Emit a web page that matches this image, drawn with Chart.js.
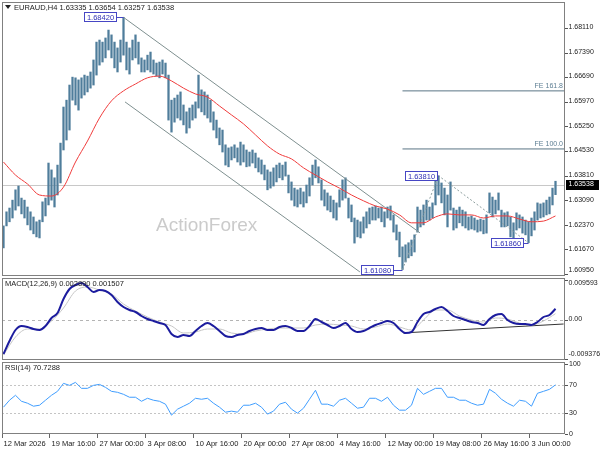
<!DOCTYPE html>
<html>
<head>
<meta charset="utf-8">
<title>EURAUD H4</title>
<script src="https://cdn.jsdelivr.net/npm/chart.js@4.4.1/dist/chart.umd.min.js"></script>
<style>
  html, body { margin: 0; padding: 0; background: #fff; }
  #wrap { position: relative; width: 600px; height: 450px; overflow: hidden; background: #fff; }
  #wrap canvas { position: absolute; left: 0; }
  #priceChart { z-index: 1; }
  #macdChart { z-index: 2; }
  #rsiChart { z-index: 3; }
</style>
</head>
<body>
<div id="wrap">
  <canvas id="priceChart" width="600" height="280" style="top:0"></canvas>
  <canvas id="macdChart" width="600" height="84" style="top:276px"></canvas>
  <canvas id="rsiChart" width="600" height="90" style="top:360px"></canvas>
</div>
<script>
// EURAUD H4 : price bars + MA, MACD, RSI

const symbolTitle = 'EURAUD,H4';
const lastOhlc = [1.63335, 1.63654, 1.63257, 1.63538];

// bar highs / lows (one per bar)
const barHigh = [
  1.6235, 1.6276, 1.6287, 1.6310, 1.6340, 1.6351, 1.6316, 1.6310, 1.6290, 1.6276,
  1.6261, 1.6247, 1.6252, 1.6305, 1.6316, 1.6418, 1.6398, 1.6375, 1.6412, 1.6476,
  1.6581, 1.6601, 1.6645, 1.6668, 1.6666, 1.6660, 1.6666, 1.6674, 1.6671, 1.6683,
  1.6718, 1.6770, 1.6776, 1.6770, 1.6782, 1.6805, 1.6791, 1.6770, 1.6753, 1.6776,
  1.6842, 1.6770, 1.6753, 1.6776, 1.6791, 1.6770, 1.6724, 1.6718, 1.6732, 1.6741,
  1.6718, 1.6709, 1.6712, 1.6718, 1.6709, 1.6674, 1.6601, 1.6607, 1.6616, 1.6625,
  1.6587, 1.6567, 1.6578, 1.6587, 1.6596, 1.6674, 1.6631, 1.6625, 1.6616, 1.6601,
  1.6567, 1.6543, 1.6520, 1.6514, 1.6471, 1.6462, 1.6465, 1.6471, 1.6462, 1.6479,
  1.6471, 1.6456, 1.6450, 1.6456, 1.6447, 1.6433, 1.6427, 1.6412, 1.6398, 1.6392,
  1.6404, 1.6412, 1.6418, 1.6412, 1.6421, 1.6383, 1.6363, 1.6345, 1.6340, 1.6345,
  1.6334, 1.6354, 1.6375, 1.6412, 1.6427, 1.6407, 1.6369, 1.6340, 1.6331, 1.6322,
  1.6310, 1.6302, 1.6340, 1.6369, 1.6375, 1.6316, 1.6296, 1.6258, 1.6252, 1.6247,
  1.6261, 1.6276, 1.6287, 1.6290, 1.6293, 1.6287, 1.6290, 1.6276, 1.6290, 1.6293,
  1.6267, 1.6238, 1.6217, 1.6174, 1.6180, 1.6186, 1.6194, 1.6209, 1.6290, 1.6281,
  1.6296, 1.6310, 1.6290, 1.6302, 1.6369, 1.6381, 1.6360, 1.6345, 1.6325, 1.6363,
  1.6287, 1.6281, 1.6290, 1.6281, 1.6276, 1.6261, 1.6264, 1.6258, 1.6252, 1.6255,
  1.6252, 1.6267, 1.6331, 1.6319, 1.6310, 1.6331, 1.6281, 1.6273, 1.6276, 1.6261,
  1.6244, 1.6273, 1.6267, 1.6261, 1.6252, 1.6247, 1.6258, 1.6276, 1.6302, 1.6299,
  1.6302, 1.6310, 1.6319, 1.6345, 1.6365
];
const barLow = [
  1.6171, 1.6235, 1.6247, 1.6258, 1.6281, 1.6293, 1.6270, 1.6258, 1.6238, 1.6223,
  1.6212, 1.6203, 1.6200, 1.6247, 1.6264, 1.6296, 1.6310, 1.6290, 1.6325, 1.6360,
  1.6456, 1.6485, 1.6514, 1.6601, 1.6587, 1.6572, 1.6607, 1.6616, 1.6625, 1.6636,
  1.6645, 1.6674, 1.6703, 1.6712, 1.6724, 1.6747, 1.6724, 1.6695, 1.6683, 1.6712,
  1.6732, 1.6689, 1.6677, 1.6718, 1.6724, 1.6706, 1.6683, 1.6683, 1.6689, 1.6683,
  1.6677, 1.6671, 1.6666, 1.6677, 1.6666, 1.6543, 1.6508, 1.6537, 1.6549, 1.6543,
  1.6529, 1.6505, 1.6520, 1.6543, 1.6549, 1.6578, 1.6567, 1.6558, 1.6549, 1.6537,
  1.6514, 1.6491, 1.6471, 1.6450, 1.6412, 1.6407, 1.6427, 1.6433, 1.6421, 1.6412,
  1.6421, 1.6407, 1.6409, 1.6418, 1.6404, 1.6392, 1.6386, 1.6369, 1.6340, 1.6345,
  1.6351, 1.6363, 1.6375, 1.6369, 1.6380, 1.6331, 1.6310, 1.6293, 1.6290, 1.6299,
  1.6290, 1.6302, 1.6322, 1.6354, 1.6375, 1.6360, 1.6310, 1.6293, 1.6281, 1.6276,
  1.6258, 1.6252, 1.6290, 1.6310, 1.6316, 1.6258, 1.6247, 1.6185, 1.6203, 1.6200,
  1.6214, 1.6229, 1.6241, 1.6252, 1.6252, 1.6258, 1.6247, 1.6232, 1.6258, 1.6252,
  1.6217, 1.6194, 1.6145, 1.6108, 1.6130, 1.6142, 1.6148, 1.6159, 1.6217, 1.6232,
  1.6238, 1.6252, 1.6252, 1.6258, 1.6296, 1.6325, 1.6302, 1.6267, 1.6232, 1.6281,
  1.6223, 1.6229, 1.6244, 1.6235, 1.6229, 1.6223, 1.6226, 1.6223, 1.6217, 1.6220,
  1.6212, 1.6214, 1.6273, 1.6261, 1.6270, 1.6281, 1.6232, 1.6232, 1.6235, 1.6203,
  1.6200, 1.6223, 1.6229, 1.6214, 1.6209, 1.6186, 1.6206, 1.6223, 1.6252, 1.6258,
  1.6261, 1.6267, 1.6270, 1.6296, 1.6326
];

// moving average, read every 4th bar
const maEvery4 = [
  1.6421, 1.6383, 1.6357, 1.6325, 1.6322, 1.6348, 1.6421, 1.6482, 1.6549, 1.6599,
  1.6628, 1.6648, 1.6666, 1.6671, 1.6657, 1.6636, 1.6619, 1.6610, 1.6584, 1.6558,
  1.6532, 1.6500, 1.6468, 1.6444, 1.6430, 1.6404, 1.6383, 1.6363, 1.6345, 1.6325,
  1.6308, 1.6293, 1.6284, 1.6267, 1.6244, 1.6244, 1.6261, 1.6270, 1.6267, 1.6267,
  1.6258, 1.6264, 1.6264, 1.6255, 1.6247, 1.6249, 1.6264
];

// MACD main (every 2nd bar) and signal (every 4th bar)
const macdEvery2 = [
  -0.00816, -0.00504, -0.0024, -0.00144, -0.00168, -0.00216, -0.0024, -0.00144, 0.00048, 0.00168,
  0.00504, 0.00744, 0.0084, 0.00888, 0.00792, 0.00672, 0.0072, 0.00696, 0.006, 0.00432,
  0.00312, 0.0024, 0.00192, 0.00096, 0.00024, -0.00024, -0.00072, -0.0012, -0.00336, -0.00408,
  -0.0036, -0.00384, -0.00264, -0.00144, -0.00072, -0.00144, -0.00264, -0.00384, -0.00408, -0.0036,
  -0.00336, -0.00264, -0.00216, -0.00192, -0.0024, -0.0024, -0.00168, -0.00144, -0.00192, -0.00264,
  -0.00264, -0.00144, 0.00024, -0.00048, -0.0012, -0.00192, -0.00144, -0.00072, -0.00216, -0.00288,
  -0.00264, -0.00192, -0.0012, -0.00072, -0.00024, -0.00072, -0.00216, -0.00312, -0.00288, -0.00048,
  0.00144, 0.00192, 0.00264, 0.00312, 0.00216, 0.00096, 0.00048, 0, -0.00048, -0.00072,
  -0.0012, 0.00024, 0.0012, 0.00144, 0, -0.00072, -0.00096, -0.00096, -0.0012, -0.00048,
  0.00072, 0.0012, 0.0027
];
const signalEvery4 = [
  -0.0084, -0.00408, -0.00216, -0.00216, -0.00024, 0.00288, 0.00696, 0.00792, 0.0072, 0.00624,
  0.00384, 0.00216, 0.00072, -0.00048, -0.00144, -0.00312, -0.00288, -0.00216, -0.00216, -0.00312,
  -0.00336, -0.00264, -0.00216, -0.00192, -0.00192, -0.00192, -0.0012, -0.00096, -0.0012, -0.00144,
  -0.00216, -0.00168, -0.00096, -0.00168, -0.0024, 0, 0.0024, 0.0024, 0.00096, 0,
  -0.00048, 0.00048, 0.00024, -0.00072, -0.0012, -0.00024, 0.00151
];

// RSI(14), every 2nd bar
const rsiEvery2 = [
  38.6, 48.6, 55.7, 47.1, 44.3, 40.0, 41.4, 48.6, 55.7, 61.4,
  72.9, 70.0, 74.3, 65.7, 65.7, 70.0, 71.4, 67.1, 61.4, 60.0,
  57.1, 52.9, 52.9, 47.1, 51.4, 48.6, 47.1, 42.9, 27.1, 35.7,
  40.0, 44.3, 51.4, 50.0, 51.4, 44.3, 38.6, 31.4, 32.9, 31.4,
  41.4, 41.4, 44.3, 38.6, 28.6, 32.9, 42.9, 45.7, 35.7, 30.0,
  37.1, 50.0, 62.9, 42.9, 42.9, 40.0, 48.6, 51.4, 44.3, 37.1,
  38.6, 51.4, 51.4, 47.1, 52.9, 41.4, 34.3, 34.3, 41.4, 65.7,
  57.1, 61.4, 65.7, 65.7, 52.9, 52.9, 48.6, 48.6, 44.3, 41.4,
  42.9, 64.3, 58.6, 50.0, 44.3, 40.0, 48.6, 47.1, 40.0, 58.6,
  61.4, 64.3, 70.7
];

// axes
const priceTicks = [1.60950, 1.61670, 1.62370, 1.63090, 1.63810, 1.64530, 1.65250, 1.65970, 1.66690, 1.67390, 1.68110];
const macdTicks = [0.009593, 0, -0.009376];
const macdTickText = ['0.009593', '0.00', '-0.009376'];
const rsiTicks = [0, 30, 70, 100];
const rsiLevels = [70, 30];
const timeLabels = ['12 Mar 2026', '19 Mar 16:00', '27 Mar 00:00', '3 Apr 08:00', '10 Apr 16:00', '20 Apr 00:00',
  '27 Apr 08:00', '4 May 16:00', '12 May 00:00', '19 May 08:00', '26 May 16:00', '3 Jun 00:00'];
const barsPerLabel = 16;

// drawn objects: [bar, price]
const swingPoints = [[40, 1.68420], [133, 1.61080], [145, 1.63810], [175, 1.61860]];
const channelUpper = [[40, 1.6842], [138.8, 1.6215]];
const channelLower = [[40.5, 1.6596], [118.8, 1.6101]];
const fiboPath = [[133, 1.6108], [145, 1.6381], [175, 1.6186]];
const feLevels = [['FE 100.0', 1.6459], ['FE 161.8', 1.6628]];
const macdTrend = [[133.3, -0.0031], [186.7, -0.00096]];
const macdTitle = 'MACD(12,26,9) 0.002890 0.001507';
const rsiTitle = 'RSI(14) 70.7288';

const X_MAX = 187.667;
const FONT = '"Liberation Sans", Arial, sans-serif';

const px = (bar) => bar + 0.5;
const toPts = (arr) => arr.map(p => ({ x: px(p[0]), y: p[1] }));
const stepPts = (arr, step) => arr.map((v, k) => ({ x: px(k * step), y: v }));

// axis labels drawn by the panel plugin
const panelTicks = {
  priceChart: priceTicks.map(v => [v, v.toFixed(5)]),
  macdChart: macdTicks.map((v, k) => [v, macdTickText[k]])
};

// frame, right labels, titles, objects
const panelPlugin = {
  id: 'panel',
  beforeDatasetsDraw(chart, args, o) {
    const { ctx, chartArea: a, scales: { y } } = chart;
    ctx.save();
    if (o.watermark) {
      ctx.font = '19px ' + FONT;
      ctx.fillStyle = '#cbcbcb';
      ctx.textAlign = 'left';
      ctx.textBaseline = 'middle';
      ctx.fillText(o.watermark, 156, 226);
    }
    (o.hlines || []).forEach(h => {
      const py = Math.round(y.getPixelForValue(h.value)) + 0.5;
      ctx.strokeStyle = h.color;
      ctx.lineWidth = 1;
      ctx.setLineDash(h.dash || []);
      ctx.beginPath();
      ctx.moveTo(a.left, py);
      ctx.lineTo(a.right, py);
      ctx.stroke();
    });
    ctx.restore();
  },
  afterDraw(chart, args, o) {
    const { ctx, chartArea: a, scales: { x, y } } = chart;
    ctx.save();
    ctx.setLineDash([]);
    ctx.lineWidth = 1;

    // FE labels
    ctx.font = '7px ' + FONT;
    ctx.fillStyle = '#5d7e93';
    ctx.textAlign = 'right';
    ctx.textBaseline = 'bottom';
    (o.feLabels || []).forEach(f => {
      ctx.fillText(f[0], a.right - 2, y.getPixelForValue(f[1]) - 1);
    });

    // swing price boxes
    ctx.font = '7.5px ' + FONT;
    (o.swings || []).forEach((s, k) => {
      const sx = x.getPixelForValue(px(s[0]));
      const sy = Math.round(y.getPixelForValue(s[1])) + 0.5;
      const text = s[1].toFixed(5);
      const w = Math.round(ctx.measureText(text).width) + 5;
      const right = Math.round(sx - o.swingGap[k]) + 0.5;
      ctx.strokeStyle = '#4646c4';
      ctx.beginPath();
      ctx.moveTo(right, sy);
      ctx.lineTo(sx, sy);
      ctx.stroke();
      ctx.fillStyle = '#fff';
      ctx.fillRect(right - w, sy - 5, w, 9);
      ctx.strokeRect(right - w, sy - 5, w, 9);
      ctx.fillStyle = '#2e2eb4';
      ctx.textAlign = 'center';
      ctx.textBaseline = 'middle';
      ctx.fillText(text, right - w / 2, sy);
    });

    // frame
    ctx.strokeStyle = '#808080';
    ctx.strokeRect(a.left + 0.5, a.top + 0.5, a.right - a.left - 1, a.bottom - a.top - 1);

    // right axis labels (kept inside the panel height)
    ctx.font = '7px ' + FONT;
    ctx.textAlign = 'left';
    ctx.textBaseline = 'top';
    (panelTicks[chart.canvas.id] || []).forEach(t => {
      const py = y.getPixelForValue(t[0]);
      const ry = Math.round(py) + 0.5;
      ctx.strokeStyle = '#555';
      ctx.beginPath();
      ctx.moveTo(a.right, ry);
      ctx.lineTo(a.right + 3, ry);
      ctx.stroke();
      const ty = Math.min(Math.max(py - 4, a.top + 2), a.bottom - 9);
      ctx.fillStyle = '#222';
      ctx.fillText(t[1], a.right + 3.5, ty);
    });

    // last price box
    if (o.lastPrice) {
      const py = Math.round(y.getPixelForValue(o.lastPrice));
      ctx.fillStyle = '#000';
      ctx.fillRect(a.right + 1, py - 5, 33, 10);
      ctx.fillStyle = '#fff';
      ctx.fillText(o.lastPrice.toFixed(5), a.right + 3.5, py - 4);
    }

    // title
    if (o.title) {
      ctx.font = '7.5px ' + FONT;
      ctx.fillStyle = '#222';
      ctx.textBaseline = 'middle';
      let tx = a.left + 3;
      if (o.arrow) {
        ctx.beginPath();
        ctx.moveTo(a.left + 3, a.top + 3);
        ctx.lineTo(a.left + 9, a.top + 3);
        ctx.lineTo(a.left + 6, a.top + 7);
        ctx.closePath();
        ctx.fill();
        tx = a.left + 12;
      }
      ctx.fillText(o.title, tx, a.top + 5.5);
    }
    ctx.restore();
  }
};

const hiddenX = { type: 'linear', display: false, min: 0, max: X_MAX, offset: false };
const rightY = (min, max) => ({
  type: 'linear', position: 'right', min: min, max: max,
  ticks: { display: false }, grid: { display: false }, border: { display: false },
  afterFit(s) { s.width = 35; }
});
const lineSet = (data, color, width, extra) => Object.assign({
  type: 'line', data: data, borderColor: color, borderWidth: width,
  pointRadius: 0, fill: false, tension: 0
}, extra || {});
const levelPts = (price) => [{ x: px(fiboPath[0][0]), y: price }, { x: X_MAX, y: price }];

// price panel
new Chart(document.getElementById('priceChart'), {
  type: 'bar',
  data: {
    datasets: [
      lineSet(stepPts(maEvery4, 4), '#f03c3c', 1, { cubicInterpolationMode: 'monotone', order: 0 }),
      lineSet(toPts(channelUpper), '#7f9090', 1, { order: 1 }),
      lineSet(toPts(channelLower), '#7f9090', 1, { order: 1 }),
      lineSet(toPts(fiboPath), '#8d9e9e', 1, { borderDash: [2, 2], order: 1 }),
      lineSet(levelPts(feLevels[0][1]), '#5a7585', 1, { order: 1 }),
      lineSet(levelPts(feLevels[1][1]), '#5a7585', 1, { order: 1 }),
      {
        type: 'bar',
        data: barHigh.map((h, i) => ({ x: px(i), y: [barLow[i], h] })),
        backgroundColor: '#4f7d9b',
        borderWidth: 0,
        barThickness: 1.6,
        order: 5
      }
    ]
  },
  options: {
    responsive: false,
    animation: false,
    events: [],
    layout: { padding: { left: 2, top: 2, right: 0, bottom: 4 } },
    plugins: {
      legend: { display: false },
      tooltip: { enabled: false },
      panel: {
        watermark: 'ActionForex',
        hlines: [{ value: lastOhlc[3], color: '#c8c8c8' }],
        feLabels: feLevels,
        swings: swingPoints,
        swingGap: [7.5, 9.5, 1, 5.5],
        lastPrice: lastOhlc[3],
        title: symbolTitle + ' ' + lastOhlc.map(v => v.toFixed(5)).join(' '),
        arrow: true
      }
    },
    scales: { x: hiddenX, y: rightY(1.60892, 1.68867) }
  },
  plugins: [panelPlugin]
});

// MACD panel
new Chart(document.getElementById('macdChart'), {
  type: 'line',
  data: {
    datasets: [
      lineSet(stepPts(macdEvery2, 2), '#1c1c9e', 2, { order: 0, cubicInterpolationMode: 'monotone' }),
      lineSet(stepPts(signalEvery4, 4), '#c6c6c6', 1, { order: 1, cubicInterpolationMode: 'monotone' }),
      lineSet(toPts(macdTrend), '#333', 1, { order: 2 })
    ]
  },
  options: {
    responsive: false,
    animation: false,
    events: [],
    layout: { padding: { left: 2, top: 2, right: 0, bottom: 0 } },
    plugins: {
      legend: { display: false },
      tooltip: { enabled: false },
      panel: {
        hlines: [{ value: 0, color: '#b4b4b4', dash: [3, 3] }],
        title: macdTitle
      }
    },
    scales: { x: hiddenX, y: rightY(-0.0096, 0.01008) }
  },
  plugins: [panelPlugin]
});

// RSI panel (its right axis uses Chart.js ticks)
new Chart(document.getElementById('rsiChart'), {
  type: 'line',
  data: {
    datasets: [lineSet(stepPts(rsiEvery2, 2), '#3f9dff', 1)]
  },
  options: {
    responsive: false,
    animation: false,
    events: [],
    layout: { padding: { left: 2, top: 2, right: 0, bottom: 0 } },
    plugins: {
      legend: { display: false },
      tooltip: { enabled: false },
      panel: {
        hlines: rsiLevels.map(v => ({ value: v, color: '#c4c4c4', dash: [2, 2] })),
        title: rsiTitle
      }
    },
    scales: {
      x: {
        type: 'linear', min: 0, max: X_MAX, offset: false,
        afterBuildTicks(s) { s.ticks = timeLabels.map((t, k) => ({ value: k * barsPerLabel })); },
        ticks: {
          autoSkip: false, maxRotation: 0, minRotation: 0, align: 'start',
          labelOffset: 1.5, padding: 1, color: '#222',
          font: { size: 7.5, family: FONT },
          callback: (v, idx) => timeLabels[idx]
        },
        grid: { drawOnChartArea: false, drawTicks: true, tickLength: 4, color: '#666' },
        border: { display: false },
        afterFit(s) { s.height = 16; }
      },
      y: {
        type: 'linear', position: 'right', min: 0, max: 103.6,
        afterBuildTicks(s) { s.ticks = rsiTicks.map(v => ({ value: v })); },
        ticks: {
          autoSkip: false, padding: 1, color: '#222',
          font: { size: 7, family: FONT },
          callback: (v) => String(v)
        },
        grid: { drawOnChartArea: false, drawTicks: true, tickLength: 3, color: '#555' },
        border: { display: false },
        afterFit(s) { s.width = 35; s.paddingTop = 0; s.paddingBottom = 0; }
      }
    }
  },
  plugins: [panelPlugin]
});
</script>
</body>
</html>
